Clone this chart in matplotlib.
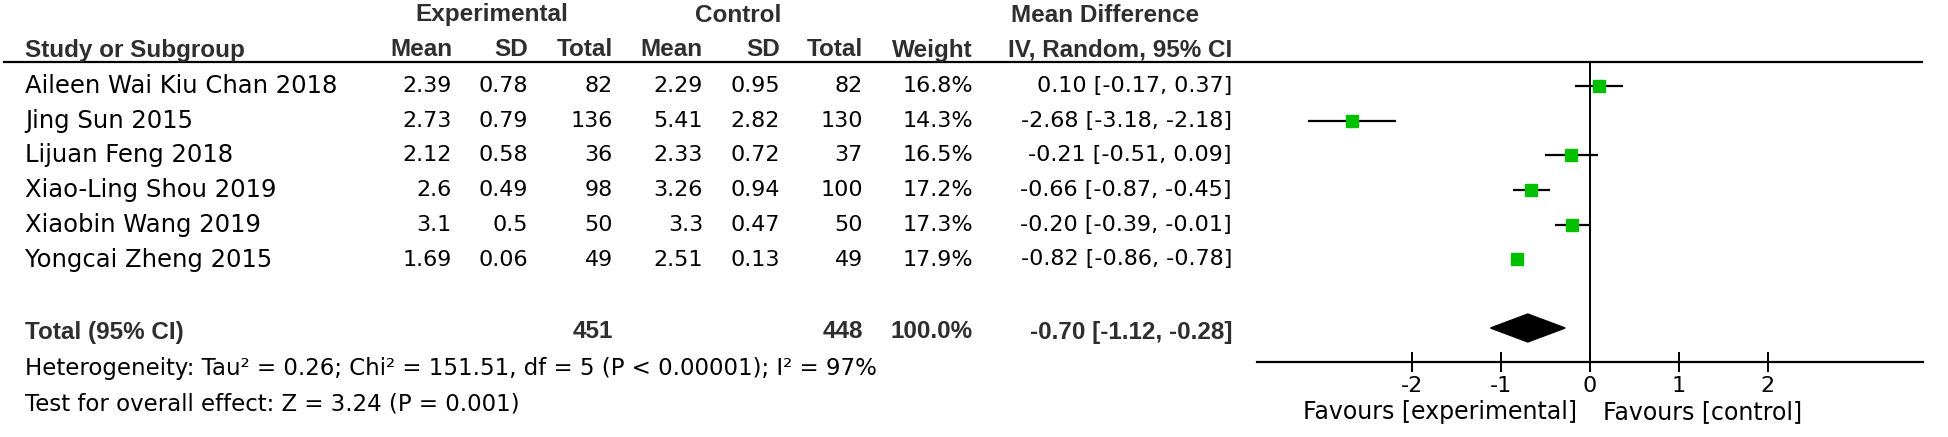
"""Forest plot (RevMan style): mean difference, IV random effects."""

import numpy as np
import matplotlib
matplotlib.use('Agg')
import matplotlib.pyplot as plt

# ---- data ----
studies = ['Aileen Wai Kiu Chan 2018', 'Jing Sun 2015', 'Lijuan Feng 2018',
           'Xiao-Ling Shou 2019', 'Xiaobin Wang 2019', 'Yongcai Zheng 2015']
exp_mean = [2.39, 2.73, 2.12, 2.6, 3.1, 1.69]
exp_sd = [0.78, 0.79, 0.58, 0.49, 0.5, 0.06]
exp_n = [82, 136, 36, 98, 50, 49]
ctl_mean = [2.29, 5.41, 2.33, 3.26, 3.3, 2.51]
ctl_sd = [0.95, 2.82, 0.72, 0.94, 0.47, 0.13]
ctl_n = [82, 130, 37, 100, 50, 49]
weight = [16.8, 14.3, 16.5, 17.2, 17.3, 17.9]
md = [0.10, -2.68, -0.21, -0.66, -0.20, -0.82]
ci_lo = [-0.17, -3.18, -0.51, -0.87, -0.39, -0.86]
ci_hi = [0.37, -2.18, 0.09, -0.45, -0.01, -0.78]

total_exp_n = 451
total_ctl_n = 448
total_weight = 100.0
total_md, total_lo, total_hi = -0.70, -1.12, -0.28

heterogeneity = 'Heterogeneity: Tau\u00b2 = 0.26; Chi\u00b2 = 151.51, df = 5 (P < 0.00001); I\u00b2 = 97%'
overall = 'Test for overall effect: Z = 3.24 (P = 0.001)'
xticks = [-2, -1, 0, 1, 2]
fav_left = 'Favours [experimental]'
fav_right = 'Favours [control]'

# ---- layout (pixel units of a 1948x437 canvas) ----
W, H = 1948, 437
DPI = 100
row_y0, row_dy = 86, 34.7
total_y, het_y, test_y = 332, 369, 404
head1_y, head2_y, line_y = 15, 50, 62
axis_y = 362
plot_l, plot_r = 1257, 1923
xlim = (-3.75, 3.75)

FS = 16
NUM = dict(family='DejaVu Sans', fontsize=FS, color='black', va='center')
NAME = dict(NUM, fontsize=17.5)
NOTE = dict(NUM, fontsize=16.5)
BOLD = dict(family='Liberation Sans', fontsize=17.5, fontweight='bold', color='#2e2e2e', va='center')
GREEN = '#00c000'

fig = plt.figure(figsize=(W / DPI, H / DPI), dpi=DPI)
fig.patch.set_facecolor('white')

# table axes in pixel coordinates
tab = fig.add_axes([0, 0, 1, 1])
tab.set_xlim(0, W)
tab.set_ylim(H, 0)
tab.axis('off')

# column right edges
cols = [452, 528, 613, 703, 780, 863, 973, 1232]

tab.text(492, head1_y, 'Experimental', ha='center', **BOLD)
tab.text(738, head1_y, 'Control', ha='center', **BOLD)
tab.text(1105, head1_y, 'Mean Difference', ha='center', **BOLD)
tab.text(25, head2_y, 'Study or Subgroup', ha='left', **BOLD)
for x, lab in zip(cols, ['Mean', 'SD', 'Total', 'Mean', 'SD', 'Total', 'Weight',
                         'IV, Random, 95% CI']):
    tab.text(x, head2_y, lab, ha='right', **BOLD)
tab.plot([3, plot_r], [line_y, line_y], color='black', lw=1.6, solid_capstyle='butt')

row_ys = [row_y0 + i * row_dy for i in range(len(studies))]
for i, y in enumerate(row_ys):
    tab.text(25, y, studies[i], ha='left', **NAME)
    vals = ['%g' % exp_mean[i], '%g' % exp_sd[i], str(exp_n[i]),
            '%g' % ctl_mean[i], '%g' % ctl_sd[i], str(ctl_n[i]),
            '%.1f%%' % weight[i],
            '%.2f [%.2f, %.2f]' % (md[i], ci_lo[i], ci_hi[i])]
    for x, v in zip(cols, vals):
        tab.text(x, y, v, ha='right', **NUM)

tab.text(25, total_y, 'Total (95% CI)', ha='left', **BOLD)
tab.text(cols[2], total_y, str(total_exp_n), ha='right', **BOLD)
tab.text(cols[5], total_y, str(total_ctl_n), ha='right', **BOLD)
tab.text(cols[6], total_y, '%.1f%%' % total_weight, ha='right', **BOLD)
tab.text(cols[7], total_y, '%.2f [%.2f, %.2f]' % (total_md, total_lo, total_hi),
         ha='right', **BOLD)
tab.text(25, het_y, heterogeneity, ha='left', **NOTE)
tab.text(25, test_y, overall, ha='left', **NOTE)

# forest axes: bottom spine is the x axis, top at the header line
ax = fig.add_axes([plot_l / W, (H - axis_y) / H, (plot_r - plot_l) / W, (axis_y - line_y) / H])
ax.set_xlim(*xlim)
ax.set_ylim(axis_y, line_y)
ax.patch.set_alpha(0)
for s in ['top', 'left', 'right']:
    ax.spines[s].set_visible(False)
ax.spines['bottom'].set_linewidth(1.6)
ax.set_yticks([])
ax.set_xticks(xticks)
ax.set_xticklabels([str(t) for t in xticks], family='DejaVu Sans', fontsize=FS)
ax.tick_params(axis='x', direction='inout', length=14, width=1.4, pad=3)

ax.axvline(0, color='black', lw=1.4)

sizes = 9.2 * np.sqrt(np.array(weight) / 17.9)
for y, m, lo, hi, s in zip(row_ys, md, ci_lo, ci_hi, sizes):
    ax.plot([lo, hi], [y, y], color='black', lw=1.6, solid_capstyle='butt', zorder=2)
    ax.plot(m, y, marker='s', ms=s, color=GREEN, mec=GREEN, zorder=3)

# pooled diamond
dh = 14
ax.fill([total_lo, total_md, total_hi, total_md],
        [total_y - 4, total_y - 4 - dh, total_y - 4, total_y - 4 + dh], color='black', zorder=3)

ax.text(-0.15, 412, fav_left, ha='right', va='center', family='DejaVu Sans',
        fontsize=17, clip_on=False)
ax.text(0.15, 412, fav_right, ha='left', va='center', family='DejaVu Sans',
        fontsize=17, clip_on=False)

fig.savefig('out.png', dpi=DPI, facecolor='white')
plt.close(fig)
